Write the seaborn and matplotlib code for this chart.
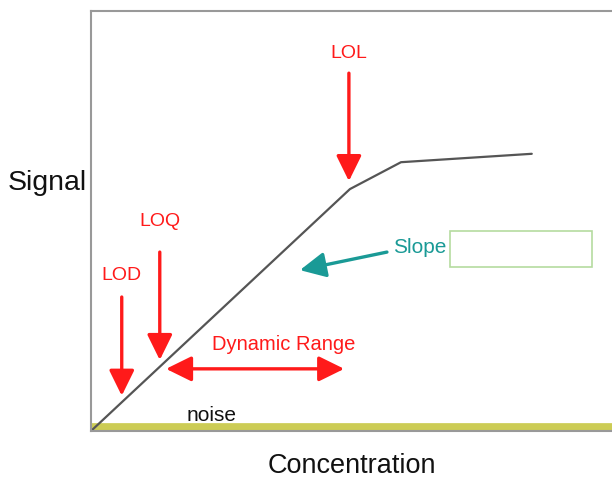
import seaborn as sns
import matplotlib.pyplot as plt
import pandas as pd
from matplotlib.patches import Rectangle

# calibration curve (arbitrary units, 0-100)
concentration = [0.0, 49.7, 59.5, 84.6]
signal = [0.0, 57.6, 64.0, 66.0]

# limit markers: (label, x, arrow top, arrow bottom, label y)
limits = [
    ("LOD", 5.9, 31.9, 8.4, 37.1),
    ("LOQ", 13.2, 42.6, 16.9, 49.8),
    ("LOL", 49.5, 85.2, 59.5, 90.0),
]
dyn_range = [14.4, 48.6]

df = pd.DataFrame({"Concentration": concentration, "Signal": signal})

sns.set_theme(style="white")
plt.rcParams["font.family"] = ["Liberation Sans", "DejaVu Sans"]

fig = plt.figure(figsize=(6.12, 4.91), dpi=100)
ax = fig.add_axes([91 / 612, 60 / 491, 521 / 612, 420 / 491])

sns.lineplot(data=df, x="Concentration", y="Signal", color="#555555", lw=1.6, ax=ax)

# noise band
ax.axhline(0.6, color="#cccc55", lw=7, zorder=1)

head = "-|>,head_length=0.65,head_width=0.32"
red = "#ff1a1a"
for lab, x, y0, y1, ty in limits:
    ax.annotate("", xy=(x, y1), xytext=(x, y0),
                arrowprops=dict(arrowstyle=head, color=red, lw=2.4, mutation_scale=24,
                                shrinkA=0, shrinkB=0))
    ax.text(x, ty, lab, color=red, fontsize=14, ha="center", va="center")

ax.annotate("", xy=(dyn_range[0], 14.8), xytext=(dyn_range[1], 14.8),
            arrowprops=dict(arrowstyle="<|-|>,head_length=0.65,head_width=0.32", color=red,
                            lw=2.4, mutation_scale=24, shrinkA=0, shrinkB=0))
ax.text(36.9, 20.5, "Dynamic Range", color=red, fontsize=14.5, ha="center", va="center")

teal = "#1a9a96"
ax.annotate("", xy=(40.1, 38.3), xytext=(56.8, 42.6),
            arrowprops=dict(arrowstyle=head, color=teal, lw=2.4, mutation_scale=24,
                            shrinkA=0, shrinkB=0))
ax.text(58.0, 43.6, "Slope", color=teal, fontsize=15, ha="left", va="center")
ax.add_patch(Rectangle((68.9, 39.0), 27.3, 8.6, fill=False, ec="#b5dba0", lw=1.2))

ax.text(23.2, 3.6, "noise", color="#111111", fontsize=15, ha="center", va="center")

ax.set_xlim(0, 100)
ax.set_ylim(0, 100)
ax.set_xticks([])
ax.set_yticks([])
ax.set_xlabel("Concentration", fontsize=19.5, color="#111111", labelpad=16)
ax.set_ylabel("")
fig.text(47 / 612, 1 - 183 / 491, "Signal", fontsize=20.5, color="#111111", ha="center", va="center")
for s in ["left", "top", "bottom"]:
    ax.spines[s].set_color("#999999")
    ax.spines[s].set_linewidth(1.5)
ax.spines["right"].set_visible(False)

fig.savefig("out.png", dpi=100)
